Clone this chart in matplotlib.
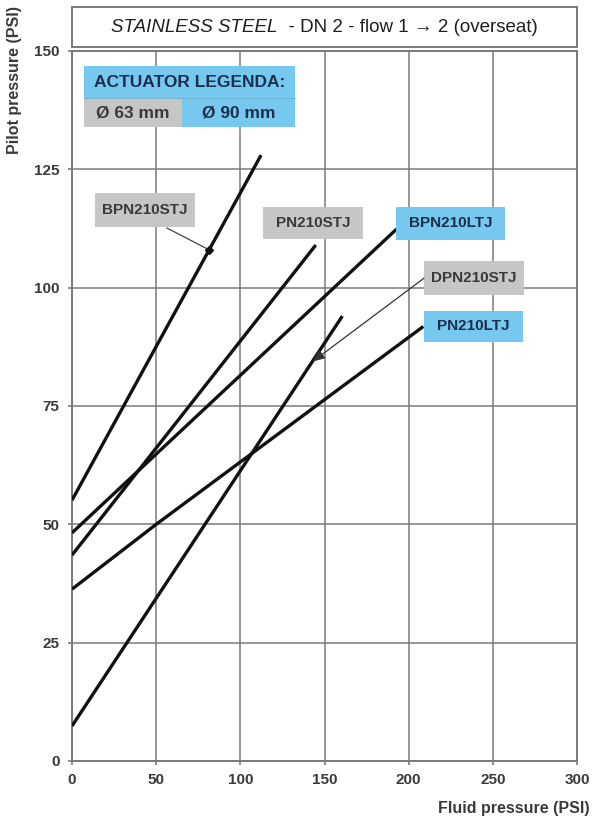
import matplotlib
matplotlib.use("Agg")
import matplotlib.pyplot as plt
from matplotlib.patches import Rectangle

# ---------------- data ----------------
series_names = ["BPN210STJ", "PN210STJ", "BPN210LTJ", "DPN210STJ", "PN210LTJ"]
bpn210stj_x = [0, 112.3]
bpn210stj_y = [55.1, 128.0]
pn210stj_x = [0, 144.8]
pn210stj_y = [43.5, 109.0]
bpn210ltj_x = [0, 192.9]
bpn210ltj_y = [48.2, 112.4]
dpn210stj_x = [0, 160.6]
dpn210stj_y = [7.4, 94.0]
pn210ltj_x = [0, 50, 208.7]
pn210ltj_y = [36.3, 50.0, 91.8]

x_ticks = [0, 50, 100, 150, 200, 250, 300]
y_ticks = [0, 25, 50, 75, 100, 125, 150]
actuator = ["Ø 63 mm", "Ø 90 mm"]

# ---------------- style ----------------
GRAY_BOX = "#c6c6c6"
BLUE_BOX = "#77c8ef"
GRID = "#7a7a7a"
TXT_GRAY = "#3a3a3a"
TXT_NAVY = "#1b2f4c"
FONT = ["Liberation Sans", "DejaVu Sans"]
plt.rcParams["font.family"] = FONT

W, H = 592, 826
fig = plt.figure(figsize=(W / 100, H / 100), dpi=100)
ax = fig.add_axes([72 / W, 1 - 761 / H, (577 - 72) / W, (761 - 51) / H])
ax.set_xlim(0, 300)
ax.set_ylim(0, 150)
ax.set_xticks(x_ticks)
ax.set_yticks(y_ticks)
ax.set_xticklabels([str(v) for v in x_ticks], fontsize=11, fontweight="bold", color=TXT_GRAY)
ax.set_yticklabels([str(v) for v in y_ticks], fontsize=11, fontweight="bold", color=TXT_GRAY)
ax.tick_params(axis="both", length=3, width=1.2, color=GRID, pad=6)
ax.grid(True, color=GRID, linewidth=1.1)
ax.set_axisbelow(True)
for s in ax.spines.values():
    s.set_color(GRID)
    s.set_linewidth(1.4)

# lines
lw = 2.4
for xs, ys in [(bpn210stj_x, bpn210stj_y), (pn210stj_x, pn210stj_y),
               (bpn210ltj_x, bpn210ltj_y), (dpn210stj_x, dpn210stj_y),
               (pn210ltj_x, pn210ltj_y)]:
    ax.plot(xs, ys, color="#111111", linewidth=lw, solid_capstyle="butt", zorder=3)

# label boxes (x0, x1, y0, y1) in data units, fill colour, text colour
boxes = {
    "BPN210STJ": (13.7, 73.1, 112.8, 120.0, GRAY_BOX, TXT_GRAY),
    "PN210STJ": (113.6, 173.1, 110.3, 117.1, GRAY_BOX, TXT_GRAY),
    "BPN210LTJ": (192.3, 257.2, 110.1, 117.1, BLUE_BOX, TXT_NAVY),
    "DPN210STJ": (209.1, 268.5, 98.5, 105.6, GRAY_BOX, TXT_GRAY),
    "PN210LTJ": (209.1, 267.7, 88.6, 95.1, BLUE_BOX, TXT_NAVY),
}
for name in series_names:
    x0, x1, y0, y1, fc, tc = boxes[name]
    ax.add_patch(Rectangle((x0, y0), x1 - x0, y1 - y0, facecolor=fc,
                           edgecolor="none", zorder=4))
    ax.text((x0 + x1) / 2, (y0 + y1) / 2, name, ha="center", va="center",
            fontsize=11, fontweight="bold", color=tc, zorder=5)

# leaders
ax.plot([56.4, 81.4], [112.6, 108.0], color="#444444", linewidth=0.9, zorder=4)
ax.plot([81.4], [108.0], marker="D", markersize=4.5, color="#111111", zorder=5)
ax.annotate("", xy=(143.0, 84.4), xytext=(209.1, 102.0),
            arrowprops=dict(arrowstyle="-|>,head_length=0.6,head_width=0.25",
                            color="#333333", linewidth=0.9, shrinkA=0, shrinkB=0,
                            mutation_scale=12),
            zorder=5)

# legend
lx0, lx1, ly0, lmid, ly1, lsplit = 7.0, 132.3, 134.0, 140.0, 146.9, 65.3
ax.add_patch(Rectangle((lx0, lmid), lx1 - lx0, ly1 - lmid, facecolor=BLUE_BOX,
                       edgecolor="none", zorder=4))
ax.add_patch(Rectangle((lx0, ly0), lsplit - lx0, lmid - ly0, facecolor=GRAY_BOX,
                       edgecolor="none", zorder=4))
ax.add_patch(Rectangle((lsplit, ly0), lx1 - lsplit, lmid - ly0, facecolor=BLUE_BOX,
                       edgecolor="none", zorder=4))
ax.plot([lx0, lx1], [lmid, lmid], color="#6aaed3", linewidth=0.6, zorder=5)
ax.text((lx0 + lx1) / 2, (lmid + ly1) / 2, "ACTUATOR LEGENDA:", ha="center",
        va="center", fontsize=12.5, fontweight="bold", color=TXT_NAVY, zorder=6)
ax.text((lx0 + lsplit) / 2, (ly0 + lmid) / 2, actuator[0], ha="center", va="center",
        fontsize=12.5, fontweight="bold", color=TXT_GRAY, zorder=6)
ax.text((lsplit + lx1) / 2, (ly0 + lmid) / 2, actuator[1], ha="center", va="center",
        fontsize=12.5, fontweight="bold", color=TXT_NAVY, zorder=6)

# title box
tax = fig.add_axes([72 / W, 1 - 47 / H, (577 - 72) / W, (47 - 7) / H])
tax.set_xticks([])
tax.set_yticks([])
for s in tax.spines.values():
    s.set_color(GRID)
    s.set_linewidth(1.4)
t1 = tax.text(0.0, 0.5, "STAINLESS STEEL", style="italic", fontsize=13.5,
              color="#1e1e1e", va="center", ha="left", transform=tax.transAxes,
              family=FONT)
t2 = tax.annotate("  - DN 2 - flow 1 \u2192 2 (overseat)", xy=(1, 0.5),
                  xycoords=t1, va="center", ha="left", fontsize=13.5,
                  color="#1e1e1e", family=FONT)
fig.canvas.draw()
r = fig.canvas.get_renderer()
w1 = t1.get_window_extent(r).width
w2 = t2.get_window_extent(r).width
axw = tax.get_window_extent(r).width
t1.set_x((axw - (w1 + w2)) / 2 / axw)

# axis labels
fig.text(15 / W, 1 - 6 / H, "Pilot pressure (PSI)", rotation=90, ha="center",
         va="top", fontsize=11.5, fontweight="bold", color=TXT_GRAY)
fig.text(590 / W, 1 - 809 / H, "Fluid pressure (PSI)", ha="right", va="center",
         fontsize=11.5, fontweight="bold", color=TXT_GRAY)

fig.savefig("out.png", dpi=100)
